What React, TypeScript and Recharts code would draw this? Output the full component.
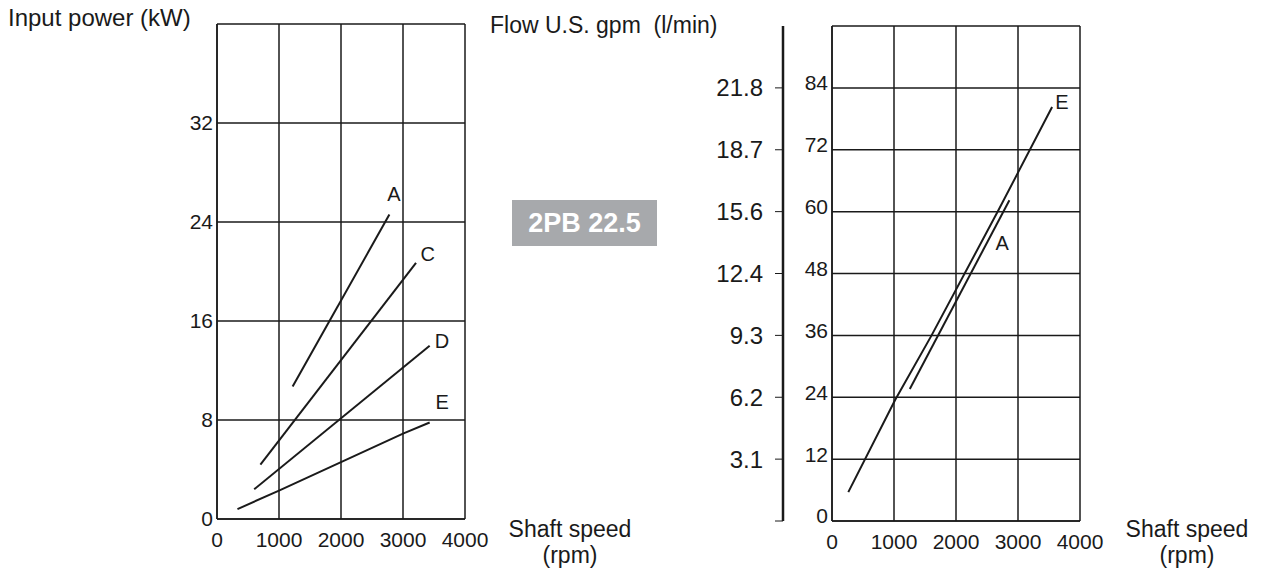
import { LineChart, Line, XAxis, YAxis, CartesianGrid, ReferenceDot } from 'recharts'

const speedTicks = [0, 1000, 2000, 3000, 4000]
const powerTicks = [0, 8, 16, 24, 32, 40]
const flowTicks = [0, 12, 24, 36, 48, 60, 72, 84, 96]
const gpmTicks = [0, 12, 24, 36, 48, 60, 72, 84]
const gpmLabels = ['', '3.1', '6.2', '9.3', '12.4', '15.6', '18.7', '21.8']

// input power (kW) vs shaft speed (rpm)
const powerA = [{ rpm: 1220, kw: 10.7 }, { rpm: 2780, kw: 24.6 }]
const powerC = [{ rpm: 700, kw: 4.4 }, { rpm: 3210, kw: 20.7 }]
const powerD = [{ rpm: 600, kw: 2.4 }, { rpm: 3430, kw: 14.0 }]
const powerE = [
  { rpm: 330, kw: 0.8 }, { rpm: 1000, kw: 2.3 }, { rpm: 2000, kw: 4.6 },
  { rpm: 3000, kw: 6.9 }, { rpm: 3430, kw: 7.8 },
]
const powerLabels = [
  { name: 'A', rpm: 2855, kw: 26.3 },
  { name: 'C', rpm: 3400, kw: 21.4 },
  { name: 'D', rpm: 3630, kw: 14.4 },
  { name: 'E', rpm: 3630, kw: 9.5 },
]

// flow (l/min) vs shaft speed (rpm)
const flowE = [
  { rpm: 263, lmin: 5.6 }, { rpm: 1020, lmin: 23.5 }, { rpm: 1606, lmin: 36 },
  { rpm: 2686, lmin: 60.3 }, { rpm: 3550, lmin: 80.3 },
]
const flowA = [{ rpm: 1255, lmin: 25.6 }, { rpm: 2861, lmin: 62.2 }]
const flowLabels = [
  { name: 'E', rpm: 3710, lmin: 81.2 },
  { name: 'A', rpm: 2745, lmin: 54 },
]

const FONT = '"Liberation Sans", Arial, sans-serif'
const INK = '#1a1a1a'

const text = (left: number, top: number, size: number, extra: React.CSSProperties = {}) => ({
  position: 'absolute' as const, left, top, fontSize: size, fontFamily: FONT, color: INK,
  lineHeight: 1, whiteSpace: 'nowrap' as const, ...extra,
})

function lineProps(data: any[], key: string) {
  return {
    data, dataKey: key, type: 'linear' as const, stroke: INK, strokeWidth: 2,
    dot: false, activeDot: false, isAnimationActive: false,
  }
}

function labelDot(x: number, y: number, name: string) {
  return (
    <ReferenceDot key={name + x} x={x} y={y} r={0} fill="none" stroke="none"
      label={{ value: name, position: 'center', fontSize: 20, fill: INK, fontFamily: FONT }} />
  )
}

const tickStyle = { fontSize: 21, fill: INK, fontFamily: FONT }

export default function App() {
  return (
    <div style={{ position: 'absolute', left: 0, top: 0, width: 1268, height: 572, background: '#fff', fontFamily: FONT }}>
      <div style={text(8, 6, 24)}>Input power (kW)</div>
      <div style={text(490, 14, 23)}>Flow U.S. gpm&nbsp; (l/min)</div>

      <div style={{ position: 'absolute', left: 0, top: 0 }}>
        <LineChart width={500} height={572} margin={{ top: 24, right: 35, left: 177, bottom: 23 }}>
          <CartesianGrid stroke={INK} strokeWidth={1.5} horizontal vertical />
          <XAxis dataKey="rpm" type="number" domain={[0, 4000]} ticks={speedTicks} height={30}
            allowDataOverflow tickSize={0} tickMargin={13} axisLine={{ stroke: INK, strokeWidth: 1.5 }}
            tick={tickStyle} />
          <YAxis type="number" domain={[0, 40]} ticks={powerTicks} width={40} allowDataOverflow
            tickFormatter={(v: number) => (v === 40 ? '' : String(v))}
            tickSize={0} tickMargin={4} axisLine={{ stroke: INK, strokeWidth: 1.5 }}
            tick={tickStyle} />
          <Line {...lineProps(powerA, 'kw')} />
          <Line {...lineProps(powerC, 'kw')} />
          <Line {...lineProps(powerD, 'kw')} />
          <Line {...lineProps(powerE, 'kw')} />
          {powerLabels.map((l) => labelDot(l.rpm, l.kw, l.name))}
        </LineChart>
      </div>

      <div style={{ position: 'absolute', left: 512, top: 200, width: 145, height: 46, background: '#a7a9ac',
        color: '#fff', fontWeight: 'bold', fontSize: 27, fontFamily: FONT, display: 'flex',
        alignItems: 'center', justifyContent: 'center' }}>2PB 22.5</div>

      <div style={{ position: 'absolute', left: 660, top: 0 }}>
        <LineChart width={480} height={572} margin={{ top: 26, right: 60, left: 43, bottom: 21 }}>
          <CartesianGrid stroke={INK} strokeWidth={1.5} horizontal vertical />
          <XAxis dataKey="rpm" type="number" domain={[0, 4000]} ticks={speedTicks} height={30}
            allowDataOverflow tickSize={0} tickMargin={13} axisLine={{ stroke: INK, strokeWidth: 1.5 }}
            tick={tickStyle} />
          <YAxis type="number" domain={[0, 96]} ticks={flowTicks} width={49} allowDataOverflow
            tickFormatter={(v: number) => (v === 96 ? '' : String(v))}
            tickSize={0} tickMargin={4} axisLine={{ stroke: INK, strokeWidth: 1.5 }}
            tick={{ ...tickStyle, dy: -5 }} />
          <YAxis yAxisId="gpm" type="number" domain={[0, 96]} ticks={gpmTicks} width={80} allowDataOverflow
            tickFormatter={(v: number) => gpmLabels[gpmTicks.indexOf(v)]}
            tickSize={8} tickMargin={12} axisLine={{ stroke: INK, strokeWidth: 2.5 }}
            tickLine={{ stroke: INK, strokeWidth: 1 }}
            tick={{ fontSize: 24, fill: INK, fontFamily: FONT }} />
          <Line {...lineProps(flowE, 'lmin')} />
          <Line {...lineProps(flowA, 'lmin')} />
          <Line data={gpmTicks.map((v) => ({ rpm: 0, gpm: v }))} dataKey="gpm" yAxisId="gpm"
            stroke="none" dot={false} activeDot={false} isAnimationActive={false} />
          {flowLabels.map((l) => labelDot(l.rpm, l.lmin, l.name))}
        </LineChart>
      </div>

      <div style={text(570, 516, 23, { transform: 'translateX(-50%)', textAlign: 'center', lineHeight: '26px' })}>
        Shaft speed<br />(rpm)
      </div>
      <div style={text(1187, 516, 23, { transform: 'translateX(-50%)', textAlign: 'center', lineHeight: '26px' })}>
        Shaft speed<br />(rpm)
      </div>
    </div>
  )
}
